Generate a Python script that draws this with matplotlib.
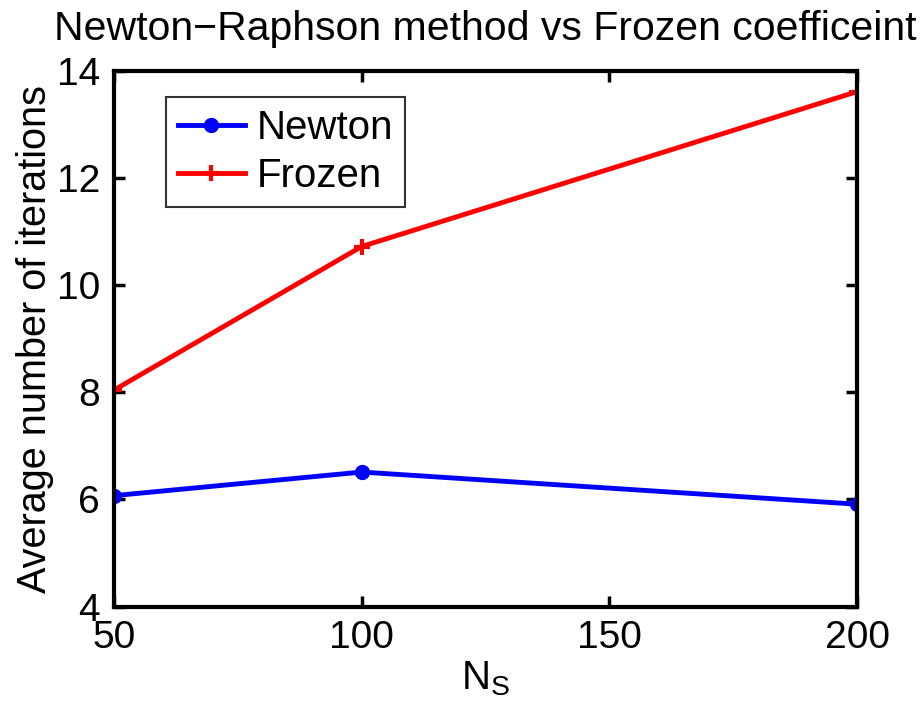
import matplotlib
matplotlib.use('Agg')
import matplotlib.pyplot as plt

plt.rcParams['font.family'] = ['Liberation Sans', 'DejaVu Sans']
plt.rcParams['mathtext.fontset'] = 'custom'
plt.rcParams['mathtext.rm'] = 'Liberation Sans'
plt.rcParams['mathtext.it'] = 'Liberation Sans'

ns = [50, 100, 200]
newton = [6.07, 6.51, 5.91]
frozen = [8.04, 10.72, 13.61]
xticks = [50, 100, 150, 200]
yticks = [4, 6, 8, 10, 12, 14]

fig = plt.figure(figsize=(9.23, 7.15), dpi=100)
ax = fig.add_axes([0.1235, 0.1517, 0.805, 0.7493])

ax.plot(ns, newton, color='#0000ff', lw=3.5, marker='o', ms=10, label='Newton')
ax.plot(ns, frozen, color='#ff0000', lw=3.5, marker='+', ms=12, mew=3, label='Frozen')

ax.set_xlim(50, 200)
ax.set_ylim(4, 14)
ax.set_xticks(xticks)
ax.set_yticks(yticks)
ax.tick_params(direction='in', length=8, width=2.5, labelsize=28, pad=10,
               top=True, right=True)
for s in ax.spines.values():
    s.set_linewidth(3)
for t in ax.get_xticklabels() + ax.get_yticklabels():
    t.set_clip_on(False)

ax.set_title('Newton\u2212Raphson method vs Frozen coefficeint', fontsize=29.5, pad=22)
ax.set_xlabel(r'N$_\mathrm{S}$', fontsize=29, labelpad=2)
ax.set_ylabel('Average number of iterations', fontsize=28.5, labelpad=2)

leg = ax.legend(loc='upper left', bbox_to_anchor=(0.07, 0.951), fontsize=29,
                frameon=True, fancybox=False, edgecolor='black',
                handlelength=1.65, borderpad=0.3, labelspacing=0.25,
                handletextpad=0.3, borderaxespad=0)
leg.get_frame().set_linewidth(1.5)

fig.savefig('out.png', dpi=100)
